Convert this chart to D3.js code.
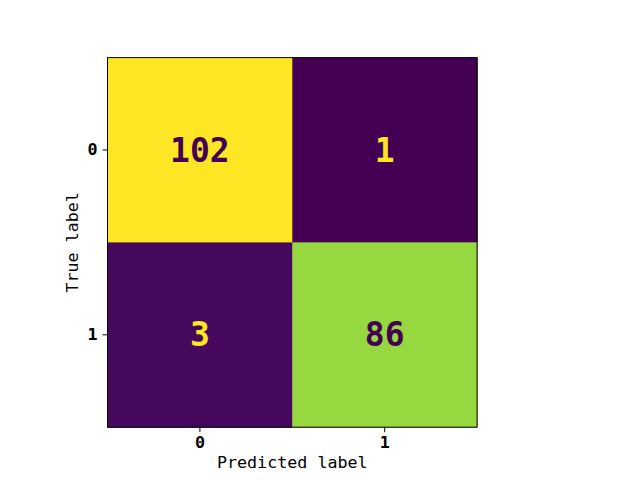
<!DOCTYPE html>
<html>
<head>
<meta charset="utf-8">
<script src="https://cdn.jsdelivr.net/npm/d3@7"></script>
<style>
body { margin: 0; background: #fff; }
</style>
</head>
<body>
<div id="chart"></div>
<script>
// Confusion matrix values (rows = true label, cols = predicted label)
var labels = ["0", "1"];
var row0 = [102, 1];
var row1 = [3, 86];
var matrix = [row0, row1];

var width = 640;
var height = 480;
var plotLeft = 107.5, plotTop = 57.6, plotSize = 369.6;

var svg = d3.select("#chart").append("svg")
		.attr("width", width)
		.attr("height", height)
		.style("font-family", "'DejaVu Sans Mono', monospace");

var x = d3.scaleBand().domain(labels).range([plotLeft, plotLeft + plotSize]);
var y = d3.scaleBand().domain(labels).range([plotTop, plotTop + plotSize]);

var all = row0.concat(row1);
var vmin = d3.min(all), vmax = d3.max(all);
var color = d3.scaleSequential(d3.interpolateViridis).domain([vmin, vmax]);
var thresh = (vmin + vmax) / 2;

var cells = [];
matrix.forEach(function(r, i) {
	r.forEach(function(v, j) {
		cells.push({row: labels[i], col: labels[j], value: v});
	});
});

svg.selectAll("rect.cell")
		.data(cells)
		.enter().append("rect")
		.attr("class", "cell")
		.attr("x", function(d) { return x(d.col); })
		.attr("y", function(d) { return y(d.row); })
		.attr("width", x.bandwidth() + 0.5)
		.attr("height", y.bandwidth() + 0.5)
		.attr("fill", function(d) { return color(d.value); });

svg.selectAll("text.val")
		.data(cells)
		.enter().append("text")
		.attr("class", "val")
		.attr("x", function(d) { return x(d.col) + x.bandwidth() / 2; })
		.attr("y", function(d) { return y(d.row) + y.bandwidth() / 2; })
		.attr("text-anchor", "middle")
		.attr("dominant-baseline", "central")
		.style("font-size", "33px")
		.style("font-weight", "bold")
		.attr("fill", function(d) { return d.value < thresh ? color(vmax) : color(vmin); })
		.text(function(d) { return d.value; });

// frame
svg.append("rect")
		.attr("x", plotLeft)
		.attr("y", plotTop)
		.attr("width", plotSize)
		.attr("height", plotSize)
		.attr("fill", "none")
		.attr("stroke", "#000")
		.attr("stroke-width", 1);

var xAxis = svg.append("g")
		.attr("transform", "translate(0," + (plotTop + plotSize) + ")")
		.call(d3.axisBottom(x).tickSize(5).tickPadding(4));
var yAxis = svg.append("g")
		.attr("transform", "translate(" + plotLeft + ",0)")
		.call(d3.axisLeft(y).tickSize(5).tickPadding(5));

[xAxis, yAxis].forEach(function(a) {
	a.select(".domain").remove();
	a.selectAll("text")
			.style("font-family", "'DejaVu Sans Mono', monospace")
			.style("font-size", "16.7px")
			.style("font-weight", "bold")
			.attr("fill", "#000");
	a.selectAll("line").attr("stroke", "#000");
});

svg.append("text")
		.attr("x", plotLeft + plotSize / 2)
		.attr("y", 468)
		.attr("text-anchor", "middle")
		.style("font-size", "16.7px")
		.text("Predicted label");

svg.append("text")
		.attr("transform", "translate(78," + (plotTop + plotSize / 2) + ") rotate(-90)")
		.attr("text-anchor", "middle")
		.style("font-size", "16.7px")
		.text("True label");
</script>
</body>
</html>
